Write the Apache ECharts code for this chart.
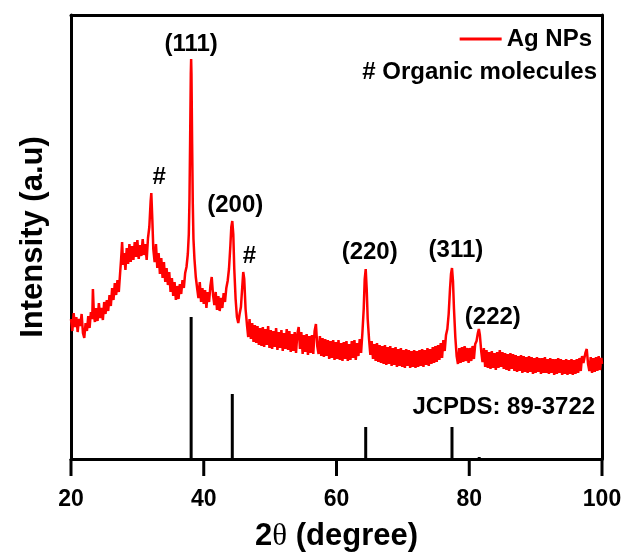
<!DOCTYPE html>
<html>
<head>
<meta charset="utf-8">
<script src="https://cdn.jsdelivr.net/npm/echarts@6/dist/echarts.min.js"></script>
<style>
html,body{margin:0;padding:0;background:#fff;}
#chart{width:624px;height:554px;}
</style>
</head>
<body>
<div id="chart"></div>
<script>
// measured pattern of Ag NPs: [2θ (degree), intensity (a.u.)]
var pattern = [
[20.0,140],[20.2,128],[20.4,146],[20.6,132],[20.8,142],[21.0,127],[21.2,140],[21.4,133],[21.6,145],[21.8,126],
[22.0,121],[22.2,136],[22.4,128],[22.6,143],[22.8,131],[23.0,147],[23.2,140],[23.3,170],[23.45,145],[23.6,137],
[23.8,151],[24.0,138],[24.2,156],[24.4,141],[24.6,151],[24.8,139],[25.0,157],[25.2,145],[25.4,159],[25.6,148],
[25.8,164],[26.0,153],[26.2,171],[26.4,159],[26.6,176],[26.8,164],[27.0,179],[27.2,167],[27.4,186],[27.55,200],
[27.7,217],[27.85,194],[28.0,206],[28.2,189],[28.4,211],[28.6,195],[28.8,215],[29.0,197],[29.2,213],[29.4,199],
[29.6,217],[29.8,202],[30.0,219],[30.2,200],[30.4,214],[30.6,203],[30.8,220],[31.0,204],[31.2,215],[31.4,199],
[31.6,221],[31.8,232],[32.0,258],[32.1,266],[32.25,240],[32.4,210],[32.6,197],[32.8,215],[33.0,191],[33.2,206],
[33.4,185],[33.6,201],[33.8,181],[34.0,197],[34.2,177],[34.4,191],[34.6,174],[34.8,187],[35.0,167],[35.2,181],
[35.4,163],[35.6,177],[35.8,159],[36.0,173],[36.2,160],[36.4,175],[36.6,165],[36.8,179],[37.0,171],[37.2,186],
[37.4,192],[37.6,205],[37.75,225],[37.85,260],[37.95,320],[38.05,385],[38.1,400],[38.15,385],[38.25,315],[38.35,255],
[38.45,220],[38.6,200],[38.8,182],[39.0,171],[39.2,161],[39.4,177],[39.6,157],[39.8,171],[40.0,155],[40.2,169],
[40.4,151],[40.6,167],[40.8,157],[41.0,173],[41.2,182],[41.4,164],[41.6,154],[41.8,167],[42.0,149],[42.2,163],
[42.4,148],[42.6,161],[42.8,151],[43.0,166],[43.2,157],[43.4,171],[43.6,178],[43.8,190],[44.0,212],[44.15,232],
[44.3,238],[44.45,225],[44.6,190],[44.8,160],[45.0,142],[45.2,136],[45.4,145],[45.6,152],[45.8,172],[45.95,187],
[46.1,180],[46.3,150],[46.5,135],[46.7,122],[46.9,140],[47.1,120],[47.3,136],[47.5,117],[47.7,134],[47.9,116],
[48.1,133],[48.3,114],[48.5,131],[48.7,113],[48.9,132],[49.1,112],[49.3,130],[49.5,114],[49.7,133],[49.9,111],
[50.1,129],[50.3,110],[50.5,128],[50.7,112],[50.9,131],[51.1,109],[51.3,127],[51.5,111],[51.7,129],[51.9,108],
[52.1,126],[52.3,110],[52.5,130],[52.7,109],[52.9,128],[53.1,107],[53.3,125],[53.5,108],[53.7,127],[53.9,106],
[54.1,125],[54.3,132],[54.5,110],[54.7,127],[54.9,105],[55.1,124],[55.3,107],[55.5,125],[55.7,104],[55.9,123],
[56.1,106],[56.3,124],[56.5,105],[56.7,128],[56.9,135],[57.1,113],[57.3,105],[57.5,123],[57.7,103],[57.9,121],
[58.1,102],[58.3,120],[58.5,103],[58.7,119],[58.9,100],[59.1,118],[59.3,101],[59.5,119],[59.7,99],[59.9,117],
[60.1,100],[60.3,119],[60.5,99],[60.7,116],[60.9,98],[61.1,117],[61.3,100],[61.5,118],[61.7,98],[61.9,115],
[62.1,99],[62.3,118],[62.5,101],[62.7,119],[62.9,99],[63.1,116],[63.3,103],[63.5,120],[63.7,106],[63.9,126],
[64.1,150],[64.25,180],[64.4,190],[64.55,170],[64.7,140],[64.9,120],[65.1,104],[65.3,118],[65.5,100],[65.7,115],
[65.9,98],[66.1,116],[66.3,97],[66.5,114],[66.7,96],[66.9,113],[67.1,95],[67.3,114],[67.5,94],[67.7,112],
[67.9,95],[68.1,113],[68.3,93],[68.5,111],[68.7,94],[68.9,112],[69.1,92],[69.3,110],[69.5,93],[69.7,111],
[69.9,92],[70.1,109],[70.3,91],[70.5,110],[70.7,93],[70.9,109],[71.1,91],[71.3,108],[71.5,92],[71.7,109],
[71.9,91],[72.1,108],[72.3,92],[72.5,109],[72.7,93],[72.9,110],[73.1,92],[73.3,109],[73.5,94],[73.7,111],
[73.9,93],[74.1,110],[74.3,95],[74.5,112],[74.7,96],[74.9,113],[75.1,97],[75.3,114],[75.5,99],[75.7,116],
[75.9,101],[76.1,119],[76.3,108],[76.5,124],[76.7,130],[76.9,145],[77.1,170],[77.25,185],[77.4,191],[77.55,178],
[77.7,150],[77.9,122],[78.1,103],[78.3,95],[78.5,111],[78.7,96],[78.9,112],[79.1,97],[79.3,113],[79.5,98],
[79.7,111],[79.9,96],[80.1,111],[80.3,98],[80.5,113],[80.7,100],[80.9,115],[81.1,118],[81.3,126],[81.45,130],
[81.6,124],[81.8,108],[82.0,97],[82.2,111],[82.4,92],[82.6,109],[82.8,91],[83.0,107],[83.2,90],[83.4,108],
[83.6,91],[83.8,106],[84.0,89],[84.2,107],[84.4,91],[84.6,109],[84.8,92],[85.0,107],[85.2,90],[85.4,106],
[85.6,89],[85.8,105],[86.0,88],[86.2,106],[86.4,90],[86.6,105],[86.8,88],[87.0,104],[87.2,87],[87.4,103],
[87.6,88],[87.8,104],[88.0,86],[88.2,103],[88.4,87],[88.6,102],[88.8,86],[89.0,103],[89.2,87],[89.4,102],
[89.6,85],[89.8,101],[90.0,86],[90.2,102],[90.4,87],[90.6,101],[90.8,85],[91.0,101],[91.2,86],[91.4,102],
[91.6,86],[91.8,100],[92.0,85],[92.2,101],[92.4,86],[92.6,100],[92.8,84],[93.0,100],[93.2,85],[93.4,101],
[93.6,86],[93.8,100],[94.0,84],[94.2,99],[94.4,85],[94.6,100],[94.8,84],[95.0,99],[95.2,85],[95.4,100],
[95.6,84],[95.8,99],[96.0,85],[96.2,100],[96.4,86],[96.6,101],[96.8,88],[97.0,103],[97.2,96],[97.5,106],
[97.7,110],[97.9,95],[98.1,88],[98.3,102],[98.5,86],[98.7,101],[98.9,87],[99.1,102],[99.3,88],[99.5,103],
[99.7,89],[99.9,101],[100.0,95]
];
// JCPDS 89-3722 reference lines
var refTheta = [38.1,44.3,64.4,77.4,81.5];
var refHeight = [142,65,32,32,2];
// peak annotations
var annotText = ['(111)','#','(200)','#','(220)','(311)','(222)','JCPDS: 89-3722'];
var annotX = [38.1,33.3,44.75,46.9,65.0,78.0,83.55,85.2];
var annotY = [415,282,254,203,207,209,142,52];
var xTicks = [20,40,60,80,100];
var yRange = [0,444];

var FONT = 'Liberation Sans, Arial, sans-serif';
var chart = echarts.init(document.getElementById('chart'), null, {renderer:'canvas'});
var sticks = refTheta.map(function(t,i){return [t,refHeight[i]];});
var annots = annotText.map(function(s,i){return {name:s,value:[annotX[i],annotY[i]]};});
var frameLine = {show:true,onZero:false,lineStyle:{color:'#000',width:3}};
var noteText = {id:'note',type:'text',right:27,top:60,
    style:{text:'# Organic molecules',font:'bold 24px '+FONT,fill:'#000'}};

chart.setOption({
  animation:false,
  backgroundColor:'#fff',
  grid:{left:71,right:22,top:15,bottom:95,containLabel:false,outerBoundsMode:'none'},
  legend:{
    data:['Ag NPs'],right:27,top:22,icon:'rect',itemWidth:42,itemHeight:3,
    textStyle:{fontFamily:FONT,fontWeight:'bold',fontSize:24,color:'#000'}
  },
  graphic:[noteText],
  xAxis:[{
    type:'value',position:'bottom',min:xTicks[0],max:xTicks[xTicks.length-1],interval:20,
    axisLine:frameLine,
    axisTick:{show:false},
    axisLabel:{show:true,margin:29,fontFamily:FONT,fontWeight:'bold',fontSize:23,color:'#000'},
    splitLine:{show:false},
    name:'{a|2}{b|θ}{a| (degree)}',nameLocation:'middle',nameGap:62,nameMoveOverlap:false,
    nameTextStyle:{rich:{
      a:{fontFamily:FONT,fontWeight:'bold',fontSize:31,color:'#000'},
      b:{fontFamily:'Liberation Serif, Times New Roman, serif',fontWeight:'normal',fontSize:31,color:'#000'}
    }}
  },{
    type:'value',position:'top',min:xTicks[0],max:xTicks[xTicks.length-1],interval:20,
    axisLine:frameLine,axisTick:{show:false},axisLabel:{show:false},splitLine:{show:false}
  }],
  yAxis:[{
    type:'value',position:'left',min:yRange[0],max:yRange[1],
    axisLine:frameLine,
    axisTick:{show:false},axisLabel:{show:false},splitLine:{show:false},
    name:'Intensity (a.u)',nameLocation:'middle',nameRotate:90,nameGap:22,nameMoveOverlap:false,
    nameTextStyle:{fontFamily:FONT,fontWeight:'bold',fontSize:31,color:'#000'}
  },{
    type:'value',position:'right',min:yRange[0],max:yRange[1],
    axisLine:frameLine,axisTick:{show:false},axisLabel:{show:false},splitLine:{show:false}
  }],
  series:[
    {name:'JCPDS',type:'bar',data:sticks,barWidth:3,itemStyle:{color:'#000'},z:1,silent:true},
    {name:'Ag NPs',type:'line',data:pattern,showSymbol:false,symbol:'none',
     lineStyle:{color:'#ff0000',width:2.5},itemStyle:{color:'#ff0000'},z:3},
    {name:'labels',type:'scatter',data:annots,symbolSize:0,itemStyle:{color:'#000'},z:4,silent:true,
     label:{show:true,position:'inside',formatter:function(p){return p.name;},
       fontFamily:FONT,fontWeight:'bold',fontSize:24,color:'#000',textBorderWidth:0,opacity:1}}
  ]
});

// outward major ticks on the 2θ axis, positioned through the axis scale
var baseY = chart.convertToPixel({yAxisIndex:0}, yRange[0]);
var tickLen = 17;
var tickEls = xTicks.map(function(v,i){
  var px = chart.convertToPixel({xAxisIndex:0}, v);
  return {id:'tick'+i,type:'line',z:10,
    shape:{x1:px,y1:baseY,x2:px,y2:baseY+tickLen},
    style:{stroke:'#000',lineWidth:3}};
});
chart.setOption({graphic:[noteText].concat(tickEls)});
</script>
</body>
</html>
